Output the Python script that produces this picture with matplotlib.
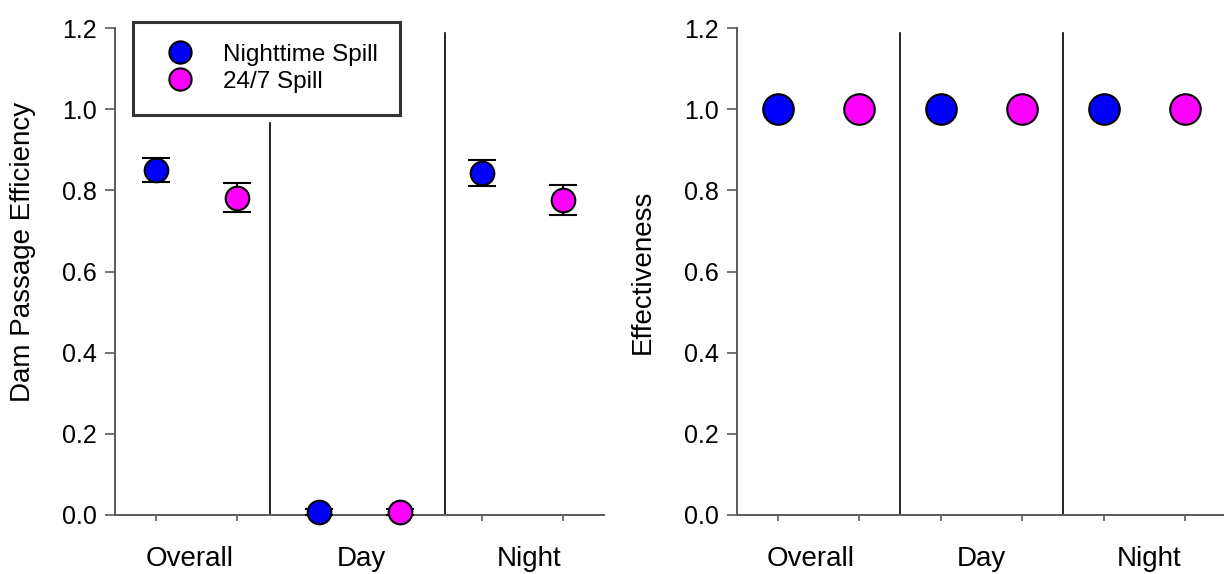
import matplotlib
matplotlib.use("Agg")
import matplotlib.pyplot as plt
import matplotlib.transforms as mtransforms

plt.rcParams['font.family'] = ['Liberation Sans', 'DejaVu Sans']

# data
categories = ['Overall', 'Day', 'Night']
series_names = ['Nighttime Spill', '24/7 Spill']
dpe_night = [0.850, 0.008, 0.843]
dpe_night_err = [0.030, 0.008, 0.032]
dpe_247 = [0.782, 0.008, 0.775]
dpe_247_err = [0.035, 0.008, 0.037]
eff_night = [1.0, 1.0, 1.0]
eff_247 = [1.0, 1.0, 1.0]
yticks = [0.0, 0.2, 0.4, 0.6, 0.8, 1.0, 1.2]

blue = '#0000FF'
magenta = '#FF00FF'
spine_col = '#5a5a5a'

fig = plt.figure(figsize=(12.24, 5.74), dpi=100)
W, H = 1224, 574
ax1 = fig.add_axes([115 / W, 1 - 515 / H, 489 / W, 487 / H])
ax2 = fig.add_axes([737 / W, 1 - 515 / H, 489 / W, 487 / H])

x_night = [2 * i + 1 for i in range(len(categories))]
x_247 = [2 * i + 2 for i in range(len(categories))]


def style_axes(ax, ylabel, label_x, label_y):
    ax.set_xlim(0.5, 6.5)
    ax.set_ylim(0, 1.2)
    ax.set_yticks(yticks)
    ax.set_yticklabels([f'{v:.1f}' for v in yticks])
    ax.set_xticks(x_night + x_247)
    ax.set_xticklabels([])
    for s in ['top', 'right']:
        ax.spines[s].set_visible(False)
    for s in ['left', 'bottom']:
        ax.spines[s].set_color(spine_col)
        ax.spines[s].set_linewidth(1.4)
    ax.tick_params(axis='y', direction='out', length=7, width=1.2,
                   color=spine_col, labelsize=18, pad=6)
    ax.tick_params(axis='x', direction='out', length=4.5, width=1.2,
                   color=spine_col)
    ax.set_ylabel(ylabel, fontsize=20)
    ax.yaxis.set_label_coords(label_x, label_y)


def cat_labels(ax, xs):
    trans = mtransforms.blended_transform_factory(ax.transData, ax.transAxes)
    for xc, name in zip(xs, categories):
        ax.text(xc, -0.09, name, transform=trans, ha='center', va='center',
                fontsize=20)


# left panel: dam passage efficiency
style_axes(ax1, 'Dam Passage Efficiency', -0.162, 0.54)
ax1.axvline(2.4, ymin=0, ymax=0.966 / 1.2, color='black', lw=1.2)
ax1.axvline(4.55, ymin=0, ymax=1.188 / 1.2, color='black', lw=1.2)
ax1.errorbar(x_night, dpe_night, yerr=dpe_night_err, fmt='o', ms=17,
             mfc=blue, mec='black', mew=1.5, ecolor='black', elinewidth=1.5,
             capsize=10, capthick=2.2, clip_on=False, zorder=5)
ax1.errorbar(x_247, dpe_247, yerr=dpe_247_err, fmt='o', ms=17,
             mfc=magenta, mec='black', mew=1.5, ecolor='black', elinewidth=1.5,
             capsize=10, capthick=2.2, clip_on=False, zorder=5)
cat_labels(ax1, [1.42, 3.52, 5.58])

leg_handles = [
    plt.Line2D([], [], ls='none', marker='o', ms=16, mfc=blue, mec='black', mew=1.5),
    plt.Line2D([], [], ls='none', marker='o', ms=16, mfc=magenta, mec='black', mew=1.5),
]
leg = fig.legend(leg_handles, series_names, loc='upper left',
                 bbox_to_anchor=(133 / W, 1 - 22 / H), bbox_transform=fig.transFigure,
                 borderaxespad=0, fontsize=17.5, frameon=True, fancybox=False,
                 borderpad=0.9, handlelength=2.1, handletextpad=0.7,
                 labelspacing=0.2)
leg.get_frame().set_edgecolor('black')
leg.get_frame().set_linewidth(2.2)

# right panel: effectiveness
style_axes(ax2, 'Effectiveness', -0.166, 0.5)
ax2.axvline(2.5, ymin=0, ymax=1.188 / 1.2, color='black', lw=1.2)
ax2.axvline(4.5, ymin=0, ymax=1.188 / 1.2, color='black', lw=1.2)
ax2.plot(x_night, eff_night, 'o', ms=22, mfc=blue, mec='black', mew=1.5,
         clip_on=False, zorder=5)
ax2.plot(x_247, eff_247, 'o', ms=22, mfc=magenta, mec='black', mew=1.5,
         clip_on=False, zorder=5)
cat_labels(ax2, [1.4, 3.5, 5.55])

fig.savefig('out.png', dpi=100)
